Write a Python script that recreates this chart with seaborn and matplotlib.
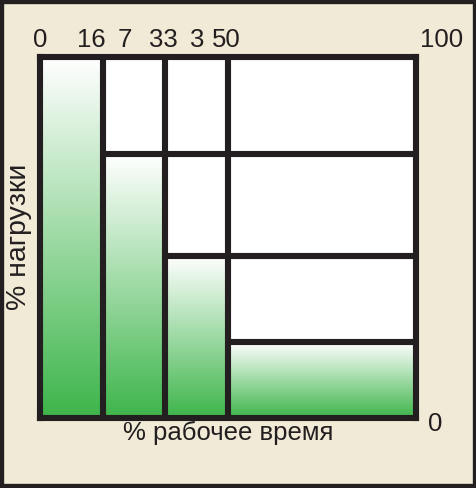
import numpy as np
import pandas as pd
import seaborn as sns
import matplotlib.pyplot as plt
from matplotlib.colors import LinearSegmentedColormap
from matplotlib.patches import Rectangle

# Load duration chart: share of working time vs load level
time_edges = [0, 16.7, 33.3, 50, 100]      # % рабочее время (step boundaries)
load_pct = [100, 73, 45, 21]               # % нагрузки for each step
top_labels = ["0", "16", "7", "33", "3", "50", "100"]
top_label_x = [0, 13.6, 22.6, 32.7, 41.8, 49.5, 106.9]   # where the labels sit (data x)

bg = '#F0EAD6'
ink = '#231F20'
green = '#3DB54A'

sns.set_style("white")
plt.rcParams['font.family'] = ['Liberation Sans', 'DejaVu Sans']

fig = plt.figure(figsize=(4.77, 4.88), dpi=100, facecolor=bg)
ax = fig.add_axes([40 / 477, 1 - 418 / 488, 376 / 477, 361 / 488])
ax.set_facecolor('white')

# 1. Variable width steps via a weighted histogram
mids = [(a + b) / 2 for a, b in zip(time_edges[:-1], time_edges[1:])]
df = pd.DataFrame({'time': mids, 'load': load_pct})
sns.histplot(data=df, x='time', weights='load', bins=time_edges, ax=ax)

# 2. Fill every step with a white-to-green gradient
cmap = LinearSegmentedColormap.from_list('wg', [green, '#FFFFFF'])
grad = np.linspace(0, 1, 256).reshape(-1, 1)
for p in ax.patches:
    p.set_facecolor('none')
    p.set_edgecolor('none')
    x0, w, h = p.get_x(), p.get_width(), p.get_height()
    im = ax.imshow(grad, cmap=cmap, origin='lower', aspect='auto',
                   extent=(x0, x0 + w, 0, h), zorder=1)
    im.set_clip_path(p)

# 3. Grid of thick lines: step boundaries and step tops carried to the right
lw = 4.4
ax.vlines(time_edges[1:-1], 0, 100, colors=ink, linewidth=lw, zorder=3, clip_on=False)
ax.hlines(load_pct[1:], time_edges[1:-1], 100, colors=ink, linewidth=lw, zorder=3, clip_on=False)

ax.set_xlim(0, 100)
ax.set_ylim(0, 100)
ax.set_xticks([])
ax.set_yticks([])
ax.set_xlabel('')
ax.set_ylabel('')
for s in ax.spines.values():
    s.set_visible(True)
    s.set_color(ink)
    s.set_linewidth(lw)
    s.set_zorder(4)

# 4. Texts
fs = 18.5
tr = ax.get_xaxis_transform()
for lab, xv in zip(top_labels, top_label_x):
    ax.text(xv, 1.028, lab, transform=tr, ha='center', va='baseline',
            fontsize=fs, color=ink)
ax.text(105.1, -0.017, '0', transform=tr, ha='center', va='center',
        fontsize=fs, color=ink)
ax.text(0.5, -0.061, '% рабочее время', transform=ax.transAxes,
        ha='center', va='baseline', fontsize=fs, color=ink)
fig.text(19 / 477, 1 - 237 / 488, '% нагрузки', rotation=90,
         ha='center', va='center', fontsize=20.5, color=ink)

# outer frame of the picture
fig.patches.append(Rectangle((0, 0), 1, 1, transform=fig.transFigure,
                             fill=False, edgecolor=ink, linewidth=6))

fig.savefig('out.png', dpi=100, facecolor=bg)
